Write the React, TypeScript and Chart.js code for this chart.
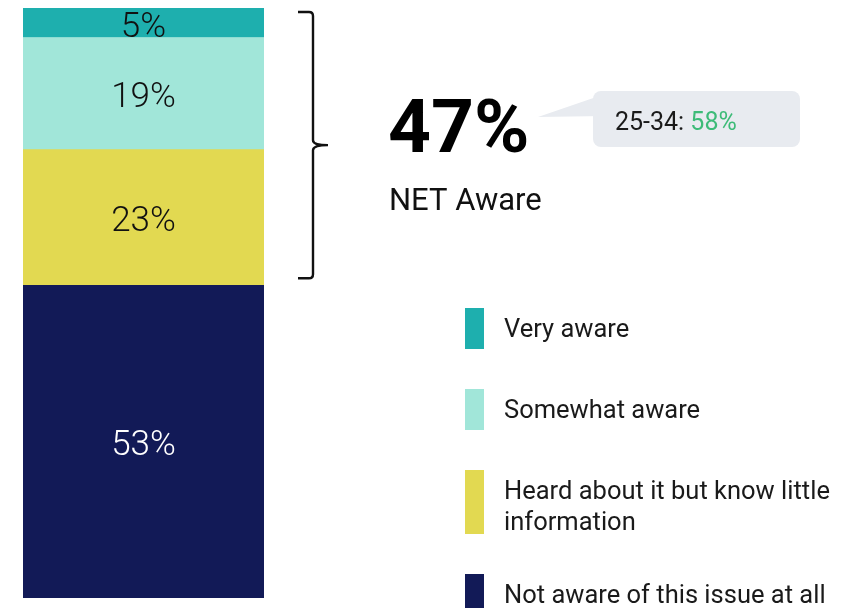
import React, { useEffect, useRef } from "react";
import { Chart, registerables } from "chart.js";

Chart.register(...registerables);

// ---- Data ----
const categories = ["Awareness"];
const seriesLabels = [
  "Not aware of this issue at all",
  "Heard about it but know little information",
  "Somewhat aware",
  "Very aware",
];
const seriesValues = [53, 23, 19, 5];
const seriesColors = ["#121A57", "#E2D951", "#A1E6D9", "#1EAFAE"];
const labelColors = ["#FFFFFF", "#111111", "#111111", "#111111"];
const legendLines = [
  ["Not aware of this issue at all"],
  ["Heard about it but know little", "information"],
  ["Somewhat aware"],
  ["Very aware"],
];
const netLabel = "NET Aware";
const calloutGroup = "25-34: ";
const calloutValue = 58;

const FONT = "Roboto, 'Noto Sans', sans-serif";

const overlayPlugin = {
  id: "overlay",
  afterDatasetsDraw(chart: any) {
    const ctx = chart.ctx as CanvasRenderingContext2D;
    seriesValues.forEach((v, i) => {
      const meta = chart.getDatasetMeta(i);
      const bar = meta.data[0];
      if (!bar) return;
      const p = bar.getProps(["x", "y", "base", "width"], true);
      const top = Math.min(p.y, p.base);
      const bottom = Math.max(p.y, p.base);
      ctx.save();
      ctx.beginPath();
      ctx.rect(p.x - p.width / 2, top, p.width, bottom - top);
      ctx.clip();
      ctx.font = `300 35px ${FONT}`;
      ctx.fillStyle = labelColors[i];
      ctx.textAlign = "center";
      ctx.textBaseline = "middle";
      ctx.fillText(`${v}%`, p.x, (top + bottom) / 2 + 5);
      ctx.restore();
    });
  },
  afterDraw(chart: any) {
    const ctx = chart.ctx as CanvasRenderingContext2D;
    const yScale = chart.scales.y;
    const net = seriesValues.slice(1).reduce((a, b) => a + b, 0);

    // bracket
    const bTop = yScale.getPixelForValue(100) + 4;
    const bBot = yScale.getPixelForValue(seriesValues[0]) - 7;
    const bMid = (bTop + bBot) / 2;
    const x0 = 298, x1 = 313, xTip = 328;
    ctx.save();
    ctx.strokeStyle = "#111";
    ctx.lineWidth = 2.4;
    ctx.beginPath();
    ctx.moveTo(x0, bTop);
    ctx.lineTo(x1 - 4, bTop);
    ctx.quadraticCurveTo(x1, bTop, x1, bTop + 4);
    ctx.lineTo(x1, bMid - 5);
    ctx.quadraticCurveTo(x1, bMid, xTip, bMid);
    ctx.quadraticCurveTo(x1, bMid, x1, bMid + 5);
    ctx.lineTo(x1, bBot - 4);
    ctx.quadraticCurveTo(x1, bBot, x1 - 4, bBot);
    ctx.lineTo(x0, bBot);
    ctx.stroke();
    ctx.restore();

    // big number
    ctx.save();
    ctx.fillStyle = "#000";
    ctx.textAlign = "left";
    ctx.textBaseline = "alphabetic";
    ctx.font = `bold 75px ${FONT}`;
    ctx.fillText(`${net}%`, 388, 152);
    ctx.font = `400 31px ${FONT}`;
    ctx.fillStyle = "#111";
    ctx.fillText(netLabel, 389, 210);
    ctx.restore();

    // callout
    ctx.save();
    ctx.fillStyle = "#E8EBF0";
    ctx.beginPath();
    ctx.moveTo(538, 117);
    ctx.lineTo(605, 94);
    ctx.lineTo(605, 116);
    ctx.closePath();
    ctx.fill();
    ctx.beginPath();
    (ctx as any).roundRect(593, 91, 207, 56, 8);
    ctx.fill();
    ctx.font = `400 25px ${FONT}`;
    ctx.textBaseline = "alphabetic";
    ctx.textAlign = "left";
    ctx.fillStyle = "#1a1a1a";
    ctx.fillText(calloutGroup, 615, 130);
    const w = ctx.measureText(calloutGroup).width;
    ctx.fillStyle = "#3DBB78";
    ctx.fillText(`${calloutValue}%`, 615 + w, 130);
    ctx.restore();

    // legend (reverse order: top segment first)
    const rows = [
      { idx: 3, top: 308, h: 41 },
      { idx: 2, top: 389, h: 41 },
      { idx: 1, top: 470, h: 64 },
      { idx: 0, top: 574, h: 41 },
    ];
    ctx.save();
    ctx.font = `400 25.5px ${FONT}`;
    ctx.textAlign = "left";
    ctx.textBaseline = "middle";
    rows.forEach((r) => {
      ctx.fillStyle = seriesColors[r.idx];
      ctx.fillRect(465, r.top, 19, r.h);
      ctx.fillStyle = "#1a1a1a";
      const lines = legendLines[r.idx];
      lines.forEach((ln, k) => {
        ctx.fillText(ln, 504, r.top + 23 + k * 31);
      });
    });
    ctx.restore();
  },
};

export default function App() {
  const ref = useRef<HTMLCanvasElement | null>(null);
  useEffect(() => {
    if (!ref.current) return;
    const chart = new Chart(ref.current, {
      type: "bar",
      data: {
        labels: categories,
        datasets: seriesValues.map((v, i) => ({
          label: seriesLabels[i],
          data: [v],
          backgroundColor: seriesColors[i],
          borderWidth: 0,
          categoryPercentage: 1,
          barPercentage: 1,
        })),
      },
      options: {
        animation: false,
        responsive: false,
        maintainAspectRatio: false,
        layout: { padding: { left: 23, right: 861 - 264, top: 8, bottom: 10 } },
        plugins: {
          legend: { display: false },
          tooltip: { enabled: false },
        },
        scales: {
          x: { stacked: true, display: false },
          y: { stacked: true, display: false, min: 0, max: 100 },
        },
      },
      plugins: [overlayPlugin],
    });
    return () => chart.destroy();
  }, []);
  return (
    <div style={{ position: "fixed", left: 0, top: 0, width: 861, height: 608, background: "#fff" }}>
      <canvas ref={ref} width={861} height={608} style={{ display: "block", width: 861, height: 608 }} />
    </div>
  );
}
